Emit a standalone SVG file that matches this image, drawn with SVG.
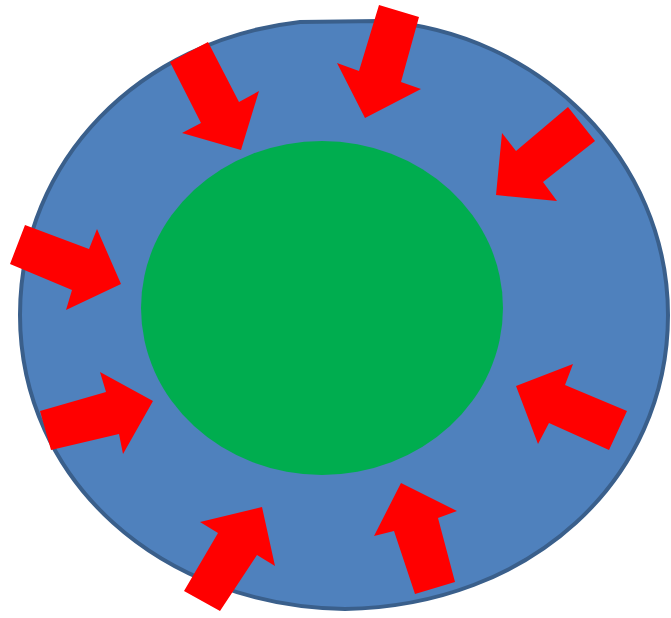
<svg xmlns="http://www.w3.org/2000/svg" width="671" height="618" viewBox="0 0 671 618">
<style>
.arrow{fill:#FF0000;stroke:none}
</style>
<rect width="671" height="618" fill="#FFFFFF"/>
<g id="outer">
<path d="M20,315 C20,160 140,40 300,22 L380,21 C540,32 668,160 668,315 C668,480 530,606 345,609 C160,606 20,480 20,315 Z" fill="#4F81BD" stroke="#3A5F8B" stroke-width="4"/>
</g>
<g id="inner">
<ellipse cx="322" cy="308" rx="181" ry="167" fill="#00AD4F"/>
</g>
<g id="arrows">
<polygon class="arrow" points="170,62 208,42 239,102 259,91 241,150 182,133 201,123"/>
<polygon class="arrow" points="379,5 419,17 401,82 421,89 365,118 337,63 359,71"/>
<polygon class="arrow" points="568,107 595,141 543,182 557,201 496,195 502,133 516,151"/>
<polygon class="arrow" points="25,225 10,264 72,290 66,310 121,284 97,229 89,249"/>
<polygon class="arrow" points="40,411 51,450 119,434 123,454 153,401 100,372 106,392"/>
<polygon class="arrow" points="516,386 573,364 565,385 627,411 609,450 549,423 538,444"/>
<polygon class="arrow" points="262,507 275,566 257,555 220,611 184,591 218,533 200,522"/>
<polygon class="arrow" points="401,483 457,511 438,518 455,582 415,594 394,531 374,536"/>
</g>
</svg>
